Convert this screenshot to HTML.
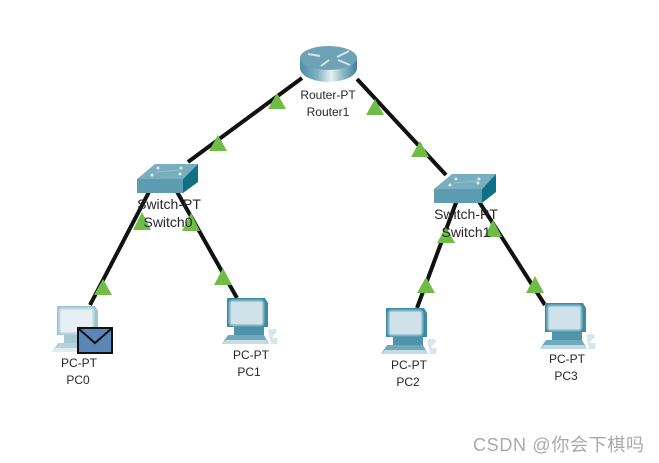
<!DOCTYPE html>
<html><head><meta charset="utf-8">
<style>
html,body{margin:0;padding:0;background:#fff;width:659px;height:463px;overflow:hidden}
svg{display:block}
.l{font-family:"Liberation Sans",sans-serif;font-size:12px;fill:#26262e;text-anchor:middle}
.s{font-size:14px}
.w{font-family:"Liberation Sans","Noto Sans CJK SC",sans-serif;font-size:18px;fill:#a9a9a9}
</style></head><body>
<svg width="659" height="463" viewBox="0 0 659 463" xmlns="http://www.w3.org/2000/svg">
<defs>
<linearGradient id="r" x1="0" x2="1" y1="0" y2="0">
<stop offset="0" stop-color="#4f8ea5"/><stop offset=".3" stop-color="#7fb0c0"/><stop offset=".55" stop-color="#e6f0f3"/><stop offset=".75" stop-color="#8fb8c6"/><stop offset="1" stop-color="#3f7f97"/>
</linearGradient>
<g id="pc">
<path d="M-20 -36 L18 -36 L21 -31 L21 -7 L-20 -7Z" fill="#3d8aa3"/>
<rect x="-17.500" y="-33.500" width="34" height="25" rx="3" fill="#cfe1e9" stroke="#7fb3c4" stroke-width="2"/>
<rect x="-13" y="-7" width="30" height="8" fill="#4e93a9"/>
<path d="M-19 1 L17 1 L22 10 L-25 10Z" fill="#6fa9bc"/>
<path d="M-21 6 L19 6 L22 10 L-25 10Z" fill="#c3dbe3"/>
<path d="M21 -4 Q30 -7 30 -2 Q26 1 25 4 L31 4 L30 10 L24 10Z" fill="#d6e6ec"/>
</g>
</defs>
<rect width="659" height="463" fill="#fff"/>
<g stroke="#111" stroke-width="4" fill="none">
<line x1="302" y1="78" x2="188" y2="162"/>
<line x1="357" y1="79" x2="446" y2="175"/>
<line x1="150" y1="190" x2="90" y2="305"/>
<line x1="176" y1="190" x2="237" y2="298"/>
<line x1="457" y1="200" x2="417" y2="308"/>
<line x1="478" y1="200" x2="545" y2="305"/>
</g>
<!-- router -->
<g>
<path d="M300 58 L300 68 A28.500 14 0 0 0 357 68 L357 58Z" fill="url(#r)"/>
<ellipse cx="328.500" cy="58" rx="28.500" ry="12" fill="#6ea3b6"/>
<g stroke="#d5e5eb" stroke-width="2" fill="none">
<path d="M308 54 L320 56"/><path d="M349 51 L337 57"/><path d="M321 66 L329 60"/><path d="M350 65 L338 60"/>
</g>
</g>
<!-- switch0 -->
<g>
<path d="M137 179 L155 164 L198 164 L183 179Z" fill="#78aebf"/>
<rect x="137" y="179" width="46" height="14" fill="#5e9cb1"/>
<path d="M183 179 L198 164 L198 182 L183 193Z" fill="#0f7188"/>
<g fill="#dcebef"><circle cx="158" cy="168" r="1.500"/><circle cx="181" cy="168" r="1.500"/><circle cx="152" cy="175" r="1.500"/><circle cx="180" cy="174" r="1.500"/></g>
<path d="M156 172 L180 170" stroke="#94c0ce" fill="none"/>
</g>
<!-- switch1 -->
<g>
<path d="M434 189 L452 174 L496 174 L482 189Z" fill="#78aebf"/>
<rect x="434" y="189" width="48" height="14" fill="#5e9cb1"/>
<path d="M482 189 L496 174 L496 192 L482 203Z" fill="#0f7188"/>
<g fill="#dcebef"><circle cx="456" cy="179" r="1.500"/><circle cx="479" cy="179" r="1.500"/><circle cx="450" cy="185" r="1.500"/><circle cx="478" cy="183" r="1.500"/></g>
<path d="M454 183 L478 181" stroke="#94c0ce" fill="none"/>
</g>
<!-- pcs -->
<g opacity=".5"><use href="#pc" transform="translate(77 342)"/></g>
<use href="#pc" transform="translate(247 334)"/>
<use href="#pc" transform="translate(406 344)"/>
<use href="#pc" transform="translate(565 339)"/>
<!-- triangles -->
<g fill="#6fbd45">
<path d="M277 93 L286 109 L268 109Z"/>
<path d="M218 135 L227 151 L209 151Z"/>
<path d="M375 99 L384 115 L366 115Z"/>
<path d="M420 141 L429 157 L411 157Z"/>
<path d="M142 212 L151 230 L133 230Z"/>
<path d="M191 213 L200 231 L182 231Z"/>
<path d="M103 279 L112 295 L94 295Z"/>
<path d="M223 268 L232 285 L214 285Z"/>
<path d="M446 227 L455 243 L437 243Z"/>
<path d="M493 220 L502 237 L484 237Z"/>
<path d="M426 277 L435 293 L417 293Z"/>
<path d="M535 276 L544 293 L526 293Z"/>
</g>
<!-- envelope -->
<g>
<rect x="78" y="328" width="34" height="25" fill="#5b86b8" stroke="#111" stroke-width="2"/>
<path d="M79 329 L95 343 L111 329" fill="none" stroke="#111" stroke-width="2"/>
</g>
<!-- labels -->
<text class="l" x="328" y="99">Router-PT</text>
<text class="l" x="328" y="116">Router1</text>
<text class="l s" x="169" y="209">Switch-PT</text>
<text class="l s" x="168" y="227">Switch0</text>
<text class="l s" x="466" y="219">Switch-PT</text>
<text class="l s" x="466" y="237">Switch1</text>
<text class="l" x="79" y="367">PC-PT</text>
<text class="l" x="78" y="384">PC0</text>
<text class="l" x="251" y="359">PC-PT</text>
<text class="l" x="249" y="376">PC1</text>
<text class="l" x="409" y="369">PC-PT</text>
<text class="l" x="408" y="386">PC2</text>
<text class="l" x="567" y="363">PC-PT</text>
<text class="l" x="566" y="380">PC3</text>
<text class="w" x="473" y="451" textLength="171" lengthAdjust="spacing">CSDN @你会下棋吗</text>
</svg>
</body></html>
